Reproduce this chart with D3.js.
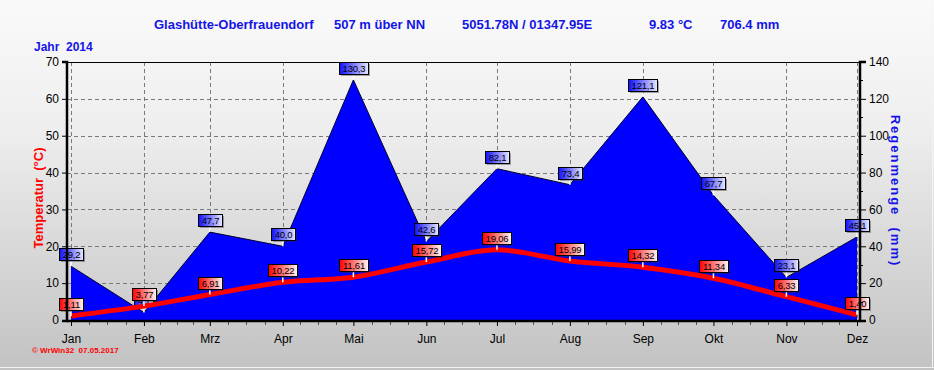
<!DOCTYPE html>
<html>
<head>
<meta charset="utf-8">
<script src="https://cdn.jsdelivr.net/npm/d3@7"></script>
<style>
  body { margin: 0; background: #c8c8c8; }
  svg { display: block; font-family: "Liberation Sans", Arial, sans-serif; }
</style>
</head>
<body>
<svg id="chart"></svg>
<script>
const months = ['Jan','Feb','Mrz','Apr','Mai','Jun','Jul','Aug','Sep','Okt','Nov','Dez'];
const temps = [1.11, 3.77, 6.91, 10.22, 11.61, 15.72, 19.06, 15.99, 14.32, 11.34, 6.33, 1.40];
const rain = [29.2, 4.1, 47.7, 40.0, 130.3, 42.6, 82.1, 73.4, 121.1, 67.7, 23.1, 45.1];
const tempTicks = [0, 10, 20, 30, 40, 50, 60, 70];
const rainTicks = [0, 20, 40, 60, 80, 100, 120, 140];
const titleParts = [
  ['Glashütte-Oberfrauendorf', 154],
  ['507 m über NN', 334],
  ['5051.78N / 01347.95E', 462],
  ['9.83 °C', 649],
  ['706.4 mm', 720]
];
const yearText = 'Jahr  2014';
const stamp = '\u00a9 WrWin32  07.05.2017';

let w = 934,
    h = 370,
    pLeft = 67,
    pRight = 860,
    pTop = 62,
    pBottom = 320;

const dates = months.map((m, i) => new Date(2014, i, 1));

const svg = d3.select('#chart')
              .attr('width', w)
              .attr('height', h);

// background gradient
const defs = svg.append('defs');
const bg = defs.append('linearGradient').attr('id', 'bg')
               .attr('x1', 0).attr('y1', 0).attr('x2', 0).attr('y2', 1);
bg.append('stop').attr('offset', '0%').attr('stop-color', '#fafafa');
bg.append('stop').attr('offset', '35%').attr('stop-color', '#eeeeee');
bg.append('stop').attr('offset', '100%').attr('stop-color', '#c2c2c2');

const mkGrad = (id, c1, c2) => {
  const g = defs.append('linearGradient').attr('id', id)
                .attr('x1', 0).attr('y1', 0).attr('x2', 1).attr('y2', 0);
  g.append('stop').attr('offset', '0%').attr('stop-color', c1);
  g.append('stop').attr('offset', '100%').attr('stop-color', c2);
};
mkGrad('gRed', '#ff0000', '#fff4f4');
mkGrad('gBlue', '#1010ff', '#e8e8ff');

svg.append('rect').attr('width', w).attr('height', h).attr('fill', 'url(#bg)');
svg.append('line').attr('x1', 0).attr('x2', w).attr('y1', 367.5).attr('y2', 367.5)
   .attr('stroke', '#f4f4f4');
svg.append('line').attr('x1', 932.5).attr('x2', 932.5).attr('y1', 0).attr('y2', 368)
   .attr('stroke', '#f4f4f4');

const xScale = d3.scaleTime()
                 .domain([dates[0], dates[11]])
                 .range([71, 857]);

const yTemp = d3.scaleLinear().domain([0, 70]).range([pBottom, pTop]);
const yRain = d3.scaleLinear().domain([0, 140]).range([pBottom, pTop]);

// grid
const grid = svg.append('g').attr('stroke', '#7a7a7a').attr('stroke-dasharray', '4,3');
grid.selectAll('.hg')
    .data(tempTicks.filter(t => t > 0 && t < 70))
    .enter().append('line')
    .attr('x1', pLeft).attr('x2', pRight)
    .attr('y1', d => Math.round(yTemp(d)) + 0.5).attr('y2', d => Math.round(yTemp(d)) + 0.5);
grid.selectAll('.vg')
    .data(dates)
    .enter().append('line')
    .attr('x1', d => Math.round(xScale(d)) + 0.5).attr('x2', d => Math.round(xScale(d)) + 0.5)
    .attr('y1', pTop).attr('y2', pBottom);

// rain area
const area = d3.area()
               .x((d, i) => xScale(dates[i]))
               .y0(pBottom + 1)
               .y1(d => yRain(d));
svg.append('path').datum(rain)
   .attr('d', area)
   .attr('fill', '#0000ff');
svg.append('path').datum(rain)
   .attr('d', d3.line().x((d, i) => xScale(dates[i])).y(d => yRain(d)))
   .attr('fill', 'none')
   .attr('stroke', '#000033')
   .attr('stroke-width', 1);

const fmt = (v, n) => v.toFixed(n).replace('.', ',');

const drawLabels = (values, yScale, digits, grad) => {
  const g = svg.append('g');
  values.forEach((v, i) => {
    const px = xScale(dates[i]);
    const py = yScale(v);
    const txt = fmt(v, digits);
    const bw = Math.round(txt.length * 4.8 + 5);
    const bh = 12;
    const by = Math.round(py - 6 - bh);
    const bx = Math.round(px - bw / 2);
    g.append('line')
     .attr('x1', px).attr('x2', px)
     .attr('y1', by + bh).attr('y2', py)
     .attr('stroke', '#ffffff').attr('stroke-width', 1.5);
    g.append('rect')
     .attr('x', bx + 2).attr('y', by + 2)
     .attr('width', bw).attr('height', bh)
     .attr('fill', '#303030').attr('opacity', 0.4);
    g.append('rect')
     .attr('x', bx + 0.5).attr('y', by + 0.5)
     .attr('width', bw).attr('height', bh)
     .attr('fill', `url(#${grad})`)
     .attr('stroke', '#000').attr('stroke-width', 1);
    g.append('text')
     .attr('x', bx + 0.5 + bw / 2)
     .attr('y', by + 10)
     .attr('text-anchor', 'middle')
     .attr('font-size', '9.5px')
     .attr('letter-spacing', '-0.2px')
     .attr('fill', '#000')
     .text(txt);
  });
};

drawLabels(rain, yRain, 1, 'gBlue');

// temperature line
svg.append('path').datum(temps)
   .attr('d', d3.line().x((d, i) => xScale(dates[i])).y(d => yTemp(d)).curve(d3.curveMonotoneX))
   .attr('fill', 'none')
   .attr('stroke', '#ff0000')
   .attr('stroke-width', 5);

drawLabels(temps, yTemp, 2, 'gRed');

// frame top
svg.append('line').attr('x1', pLeft).attr('x2', pRight)
   .attr('y1', pTop + 0.5).attr('y2', pTop + 0.5).attr('stroke', '#000');

// axes
const yAxisL = d3.axisLeft(yTemp).tickValues(tempTicks).tickSize(5).tickPadding(3);
const yAxisR = d3.axisRight(yRain).tickValues(rainTicks).tickSize(6).tickPadding(3);
const xAxis = d3.axisBottom(xScale).tickValues(dates)
                .tickFormat((d, i) => months[i]).tickSize(5).tickPadding(8);

const styleAxis = (g) => {
  g.select('.domain').attr('stroke-width', 2.5);
  g.selectAll('text').attr('font-size', '12px').attr('fill', '#000')
   .attr('font-family', '"Liberation Sans", Arial, sans-serif');
};

svg.append('g')
   .attr('transform', `translate(${pLeft},0)`)
   .call(yAxisL)
   .call(g => g.select('.domain').attr('d', `M-5,${pTop}H0V${pBottom + 1}H-5`))
   .call(styleAxis);

// minor right ticks
svg.append('g').selectAll('line')
   .data(d3.range(10, 140, 20))
   .enter().append('line')
   .attr('x1', pRight).attr('x2', pRight + 3)
   .attr('y1', d => Math.round(yRain(d)) + 0.5).attr('y2', d => Math.round(yRain(d)) + 0.5)
   .attr('stroke', '#000');

svg.append('g')
   .attr('transform', `translate(${pRight},0)`)
   .call(yAxisR)
   .call(g => g.select('.domain').attr('d', `M6,${pTop}H0V${pBottom + 1}H6`))
   .call(styleAxis);

// minor x ticks at quarter months
const minor = [];
for (let i = 0; i < 11; i++) {
  const a = xScale(dates[i]), b = xScale(dates[i + 1]);
  for (let k = 1; k < 4; k++) minor.push(a + (b - a) * k / 4);
}
svg.append('g').selectAll('line')
   .data(minor)
   .enter().append('line')
   .attr('x1', d => Math.round(d) + 0.5).attr('x2', d => Math.round(d) + 0.5)
   .attr('y1', pBottom + 1).attr('y2', pBottom + 5)
   .attr('stroke', '#555');

svg.append('g')
   .attr('transform', `translate(0,${pBottom + 1})`)
   .call(xAxis)
   .call(g => g.select('.domain').attr('d', `M${pLeft},0H${pRight}`))
   .call(styleAxis);

// titles
svg.append('g').selectAll('text')
   .data(titleParts)
   .enter().append('text')
   .attr('x', d => d[1]).attr('y', 29)
   .attr('font-size', '13px').attr('font-weight', 'bold')
   .attr('fill', '#1414e6')
   .text(d => d[0]);

svg.append('text')
   .attr('x', 34).attr('y', 51)
   .attr('font-size', '12px').attr('font-weight', 'bold')
   .attr('fill', '#1414e6')
   .style('white-space', 'pre')
   .text(yearText);

svg.append('text')
   .attr('transform', `translate(43,198) rotate(-90)`)
   .attr('text-anchor', 'middle')
   .attr('font-size', '13px').attr('font-weight', 'bold')
   .attr('fill', '#ff0000')
   .style('white-space', 'pre')
   .text('Temperatur  (°C)');

svg.append('text')
   .attr('transform', `translate(891,${(pTop + pBottom) / 2}) rotate(90)`)
   .attr('text-anchor', 'middle')
   .attr('font-size', '13px').attr('font-weight', 'bold')
   .attr('letter-spacing', '2px')
   .attr('fill', '#1414e6')
   .style('white-space', 'pre')
   .text('Regenmenge  (mm)');

svg.append('text')
   .attr('x', 32).attr('y', 353)
   .attr('font-size', '8px').attr('font-weight', 'bold')
   .attr('fill', '#ff0000')
   .style('white-space', 'pre')
   .text(stamp);
</script>
</body>
</html>
